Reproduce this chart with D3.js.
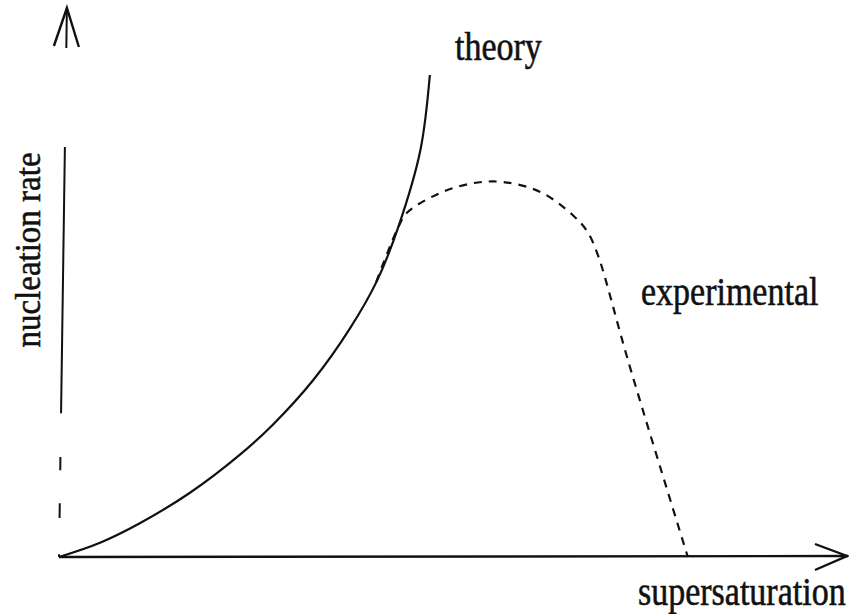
<!DOCTYPE html>
<html>
<head>
<meta charset="utf-8">
<script src="https://cdn.jsdelivr.net/npm/d3@7"></script>
<style>
	body{ margin:0; background:#fff; }
	#chart{ width:849px; height:614px; }
	text{ font-family:"Liberation Serif", "Times New Roman", serif; fill:#111; stroke:#111; stroke-width:0.5px; }
</style>
</head>
<body>
<div id="chart"></div>
<script>
// schematic: nucleation rate vs supersaturation (arbitrary units, 0..10 on both axes)

const theoryX = [0, 0.52, 1.03, 1.66, 2.29, 2.71, 3.22, 3.69, 4.03, 4.30, 4.58, 4.70];
const theoryY = [0, 0.26, 0.62, 1.17, 1.86, 2.41, 3.22, 4.17, 5.03, 6.01, 7.41, 8.78];

const experimentalX = [4.02, 4.30, 4.41, 4.83, 5.25, 5.63, 6.10, 6.51, 6.70, 6.83, 6.91, 7.21, 7.97];
const experimentalY = [5.01, 6.01, 6.27, 6.63, 6.81, 6.83, 6.65, 6.23, 5.92, 5.50, 5.14, 3.59, 0];

// the scanned y axis is broken into pieces, these are the visible stretches (in y units)
const yAxisPieces = [[9.27, 10], [2.62, 7.47], [1.58, 1.82], [0.71, 0.98], [0, 0.05]];

const labels = {
	theory: 'theory',
	experimental: 'experimental',
	x: 'supersaturation',
	y: 'nucleation rate'
};

const W = 849, H = 614;
const margin = {t:8, r:1, b:57, l:59};

const scaleX = d3.scaleLinear().domain([0, 10]).range([margin.l, W - margin.r]);
const scaleY = d3.scaleLinear().domain([0, 10]).range([H - margin.b, margin.t]);

const svg = d3.select('#chart')
	.append('svg')
	.attr('width', W).attr('height', H);

//Axes, drawn by hand since the picture has no ticks
//y axis leans a little to the right at the top
const yLean = d3.scaleLinear().domain([0, 10]).range([0, 0.1]);

svg.append('g')
	.attr('class', 'axis axis-y')
	.selectAll('line')
	.data(yAxisPieces)
	.enter()
	.append('line')
	.attr('x1', function(d){ return scaleX(yLean(d[0])) })
	.attr('y1', function(d){ return scaleY(d[0]) })
	.attr('x2', function(d){ return scaleX(yLean(d[1])) })
	.attr('y2', function(d){ return scaleY(d[1]) })
	.style('stroke', '#111')
	.style('stroke-width', 2);

const yTip = [scaleX(yLean(10)), scaleY(10)];
svg.append('path')
	.attr('d', `M${yTip[0] - 13},${yTip[1] + 38} L${yTip[0]},${yTip[1]} L${yTip[0] + 12},${yTip[1] + 39}`)
	.style('fill', 'none')
	.style('stroke', '#111')
	.style('stroke-width', 2.4);

svg.append('line')
	.attr('class', 'axis axis-x')
	.attr('x1', scaleX(0)).attr('y1', scaleY(0))
	.attr('x2', scaleX(10)).attr('y2', scaleY(0) - 1)
	.style('stroke', '#111')
	.style('stroke-width', 2.4);

const xTip = [scaleX(10) - 1, scaleY(0) - 1];
svg.append('path')
	.attr('d', `M${xTip[0] - 32},${xTip[1] - 12} L${xTip[0]},${xTip[1]} L${xTip[0] - 32},${xTip[1] + 14}`)
	.style('fill', 'none')
	.style('stroke', '#111')
	.style('stroke-width', 2.4);

//Curves
const theory = theoryX.map(function(x, i){ return {x:x, y:theoryY[i]} });
const experimental = experimentalX.map(function(x, i){ return {x:x, y:experimentalY[i]} });

const line = d3.line()
	.x(function(d){ return scaleX(d.x) })
	.y(function(d){ return scaleY(d.y) })
	.curve(d3.curveCatmullRom.alpha(0.5));

svg.append('path')
	.datum(theory)
	.attr('class', 'line theory')
	.attr('d', line)
	.style('fill', 'none')
	.style('stroke', '#111')
	.style('stroke-width', 2.2);

svg.append('path')
	.datum(experimental)
	.attr('class', 'line experimental')
	.attr('d', line)
	.style('fill', 'none')
	.style('stroke', '#111')
	.style('stroke-width', 2.2)
	.style('stroke-dasharray', '8,7');

//Labels, the scanned type is a bit taller than Times so stretch it vertically
function label(txt, x, y){
	svg.append('text')
		.attr('transform', `translate(${x},${y}) scale(1,1.15)`)
		.style('font-size', '34px')
		.text(txt);
}
label(labels.theory, 455, 60);
label(labels.experimental, 641, 305);
label(labels.x, 638, 605);

svg.append('text')
	.attr('transform', `translate(40,250) rotate(-90) scale(1,1.08)`)
	.attr('text-anchor', 'middle')
	.style('font-size', '33px')
	.text(labels.y);
</script>
</body>
</html>
